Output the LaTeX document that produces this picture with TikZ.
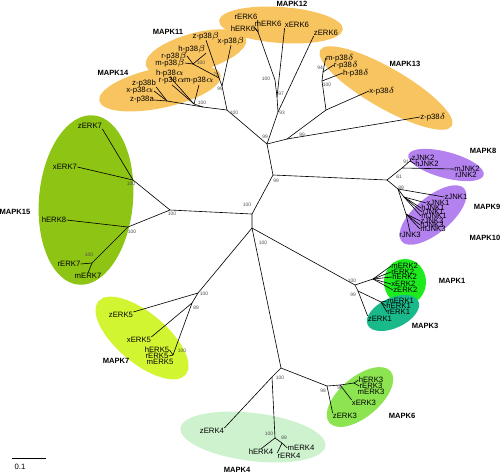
\documentclass[tikz,border=0pt]{standalone}
\usepackage{fontspec}
\setmainfont{Liberation Sans}
\usetikzlibrary{positioning}

\definecolor{pthree}{RGB}{248,196,96}
\definecolor{jnk}{RGB}{180,130,238}
\definecolor{erktwo}{RGB}{30,235,30}
\definecolor{erkone}{RGB}{25,185,140}
\definecolor{erkseven}{RGB}{142,196,20}
\definecolor{erkfive}{RGB}{210,245,50}
\definecolor{erkthree}{RGB}{140,228,80}
\definecolor{erkfour}{RGB}{205,242,205}

\begin{document}
\begin{tikzpicture}[x=0.02cm, y=-0.02cm,
    leaf/.style={font=\fontsize{4.4}{5}\selectfont, inner sep=0pt},
    bs/.style={font=\fontsize{2.8}{3}\selectfont, inner sep=0pt, text=black!70},
    grp/.style={font=\fontsize{4.3}{5}\selectfont\bfseries, inner sep=0pt},
    br/.style={line width=0.35pt}]
\useasboundingbox (0,0) rectangle (500,474);

% clade backgrounds
\fill[pthree, rotate around={-4:(281,25)}] (281,25) ellipse [x radius=62, y radius=18];
\fill[pthree, rotate around={15:(196,52)}] (196,52) ellipse [x radius=52, y radius=19];
\fill[pthree, rotate around={12:(160,88)}] (160,88) ellipse [x radius=62, y radius=20];
\fill[pthree, rotate around={-30:(386,88)}] (386,88) ellipse [x radius=76, y radius=20];
\fill[jnk, rotate around={-15:(446,165)}] (446,165) ellipse [x radius=39, y radius=13];
\fill[jnk, rotate around={40:(433,215)}] (433,215) ellipse [x radius=41, y radius=18];
\fill[erktwo] (405,282) ellipse [x radius=21, y radius=23];
\fill[erkone, rotate around={25:(393,313)}] (393,313) ellipse [x radius=28, y radius=15];
\fill[erkseven, rotate around={-5:(86,200)}] (86,200) ellipse [x radius=47, y radius=85];
\fill[erkfive, rotate around={-40:(142,338)}] (142,338) ellipse [x radius=57, y radius=25];
\fill[erkthree, rotate around={40:(360,397)}] (360,397) ellipse [x radius=40, y radius=20];
\fill[erkfour, rotate around={-7:(253,437)}] (253,437) ellipse [x radius=73, y radius=24];

% inner nodes
\coordinate (N1) at (273,175);
\coordinate (N2) at (252,214);
\coordinate (N3) at (252,228);
\coordinate (A) at (267,144);
\coordinate (P0) at (227,110);
\coordinate (Pb) at (222,86);
\coordinate (Pb2) at (219,78);
\coordinate (Pbm) at (193,64);
\coordinate (Pa) at (203,107);
\coordinate (Pam) at (194,104);
\coordinate (Paf) at (167,101);
\coordinate (G3) at (278,112);
\coordinate (G2) at (277,97);
\coordinate (G1) at (275,80);
\coordinate (Gm) at (258,32);
\coordinate (Dz) at (287,139);
\coordinate (Dx) at (326,110);
\coordinate (D1) at (322,81);
\coordinate (D2) at (323,72);
\coordinate (J0) at (387,180);
\coordinate (J2) at (402,168);
\coordinate (J2a) at (410,161);
\coordinate (J13) at (398,189);
\coordinate (J1) at (404,197);
\coordinate (J3) at (406,214);
\coordinate (M15) at (170,210);
\coordinate (E7a) at (133,180);
\coordinate (E7b) at (128,227);
\coordinate (E7c) at (92,263);
\coordinate (M7) at (198,293);
\coordinate (M7b) at (192,303);
\coordinate (M7c) at (173,355);
\coordinate (E34) at (281,368);
\coordinate (K4) at (272,377);
\coordinate (K4m) at (275,438);
\coordinate (K4rm) at (282,443);
\coordinate (E3) at (327,386);
\coordinate (E3b) at (340,385);
\coordinate (E3m) at (354,383);
\coordinate (R) at (355,285);
\coordinate (E2) at (373,279);
\coordinate (E1) at (358,291);
\coordinate (E1m) at (381,302);

% leaves
\node[leaf] (hERK6) at (243,29) {hERK6};
\node[leaf] (mERK6) at (268,24) {mERK6};
\node[leaf] (rERK6) at (246,17) {rERK6};
\node[leaf] (xERK6) at (297,25) {xERK6};
\node[leaf] (zERK6) at (326,33) {zERK6};
\node[leaf] (zpb) at (206,36) {z-p38$\beta$};
\node[leaf] (xpb) at (231,41) {x-p38$\beta$};
\node[leaf] (hpb) at (192,49) {h-p38$\beta$};
\node[leaf] (rpb) at (174,56) {r-p38$\beta$};
\node[leaf] (mpb) at (170,63) {m-p38$\beta$};
\node[leaf] (hpa) at (170,73) {h-p38$\alpha$};
\node[leaf] (rpa) at (172,81) {r-p38$\alpha$};
\node[leaf] (mpa) at (199,81) {m-p38$\alpha$};
\node[leaf] (zpbb) at (144,83) {z-p38b};
\node[leaf] (xpa) at (140,91) {x-p38$\alpha$};
\node[leaf] (zpa) at (142,100) {z-p38a};
\node[leaf] (mpd) at (340,58) {m-p38$\delta$};
\node[leaf] (rpd) at (346,65) {r-p38$\delta$};
\node[leaf] (hpd) at (356,73) {h-p38$\delta$};
\node[leaf] (xpd) at (382,91) {x-p38$\delta$};
\node[leaf] (zpd) at (433,117) {z-p38$\delta$};
\node[leaf] (zJNK2) at (423,158) {zJNK2};
\node[leaf] (hJNK2) at (427,164) {hJNK2};
\node[leaf] (mJNK2) at (467,169) {mJNK2};
\node[leaf] (rJNK2) at (466,175) {rJNK2};
\node[leaf] (zJNK1) at (456,197) {zJNK1};
\node[leaf] (xJNK1) at (438,203) {xJNK1};
\node[leaf] (hJNK1) at (433,208) {hJNK1};
\node[leaf] (rJNK1) at (433,212) {rJNK1};
\node[leaf] (mJNK1) at (434,216) {mJNK1};
\node[leaf] (zJNK3) at (432,221) {zJNK3};
\node[leaf] (hJNK3) at (432,225) {hJNK3};
\node[leaf] (mJNK3) at (433,229) {mJNK3};
\node[leaf] (rJNK3) at (410,235) {rJNK3};
\node[leaf, anchor=west] (mERK2) at (391,266) {mERK2};
\node[leaf, anchor=west] (rERK2) at (391,272) {rERK2};
\node[leaf, anchor=west] (hERK2) at (392,277) {hERK2};
\node[leaf, anchor=west] (xERK2) at (391,284) {xERK2};
\node[leaf, anchor=west] (zERK2) at (393,290) {zERK2};
\node[leaf, anchor=west] (mERK1) at (387,301) {mERK1};
\node[leaf, anchor=west] (hERK1) at (386,306) {hERK1};
\node[leaf, anchor=west] (rERK1) at (387,312) {rERK1};
\node[leaf] (zERK1) at (380,319) {zERK1};
\node[leaf] (zERK7) at (90,126) {zERK7};
\node[leaf] (xERK7) at (65,167) {xERK7};
\node[leaf] (hERK8) at (54,220) {hERK8};
\node[leaf] (rERK7) at (69,264) {rERK7};
\node[leaf] (mERK7) at (88,276) {mERK7};
\node[leaf] (zERK5) at (121,315) {zERK5};
\node[leaf] (xERK5) at (139,340) {xERK5};
\node[leaf] (hERK5) at (157,350) {hERK5};
\node[leaf] (rERK5) at (157,356) {rERK5};
\node[leaf] (mERK5) at (160,362) {mERK5};
\node[leaf] (hERK3) at (371,380) {hERK3};
\node[leaf] (rERK3) at (371,386) {rERK3};
\node[leaf] (mERK3) at (371,392) {mERK3};
\node[leaf] (xERK3) at (364,403) {xERK3};
\node[leaf] (zERK3) at (345,416) {zERK3};
\node[leaf] (zERK4) at (212,431) {zERK4};
\node[leaf] (hERK4) at (261,452) {hERK4};
\node[leaf] (rERK4) at (289,456) {rERK4};
\node[leaf] (mERK4) at (301,448) {mERK4};

% branches
\draw[br] (N1) -- (N2) -- (N3);
\draw[br] (N1) -- (A);
\draw[br] (N1) -- (J0);
\draw[br] (N2) -- (M15);
\draw[br] (N3) -- (M7);
\draw[br] (N3) -- (E34);
\draw[br] (N3) -- (R);
% p38
\draw[br] (A) -- (P0);
\draw[br] (A) -- (G3);
\draw[br] (A) -- (Dz);
\draw[br] (P0) -- (Pb);
\draw[br] (P0) -- (Pa);
\draw[br] (Pb) -- (Pb2);
\draw[br] (Pb) -- (xpb.south);
\draw[br] (Pb2) -- (zpb.south);
\draw[br] (Pb2) -- (Pbm);
\draw[br] (Pbm) -- (hpb.south east);
\draw[br] (Pbm) -- (rpb.east);
\draw[br] (Pbm) -- (mpb.east);
\draw[br] (Pa) -- (Pam);
\draw[br] (Pa) -- (Paf);
\draw[br] (Pam) -- (hpa.south);
\draw[br] (Pam) -- (rpa.south);
\draw[br] (Pam) -- (mpa.south);
\draw[br] (Paf) -- (zpbb.south east);
\draw[br] (Paf) -- (xpa.east);
\draw[br] (Paf) -- (zpa.east);
\draw[br] (G3) -- (G2) -- (G1) -- (Gm);
\draw[br] (G3) -- (zERK6.south west);
\draw[br] (G2) -- (xERK6.south west);
\draw[br] (Gm) -- (hERK6.east);
\draw[br] (Gm) -- (mERK6.south west);
\draw[br] (Gm) -- (rERK6.south east);
\draw[br] (Dz) -- (zpd.west);
\draw[br] (Dz) -- (Dx);
\draw[br] (Dx) -- (xpd.west);
\draw[br] (Dx) -- (D1);
\draw[br] (D1) -- (hpd.west);
\draw[br] (D1) -- (D2);
\draw[br] (D2) -- (mpd.west);
\draw[br] (D2) -- (rpd.west);
% JNK
\draw[br] (J0) -- (J2);
\draw[br] (J0) -- (J13);
\draw[br] (J2) -- (J2a);
\draw[br] (J2) -- (mJNK2.west);
\draw[br] (J2a) -- (zJNK2.west);
\draw[br] (J2a) -- (hJNK2.west);
\draw[br] (J13) -- (zJNK1.west);
\draw[br] (J13) -- (J1);
\draw[br] (J13) -- (J3);
\draw[br] (J1) -- (xJNK1.west);
\draw[br] (J1) -- (hJNK1.west);
\draw[br] (J1) -- (rJNK1.west);
\draw[br] (J1) -- (mJNK1.west);
\draw[br] (J3) -- (zJNK3.west);
\draw[br] (J3) -- (hJNK3.west);
\draw[br] (J3) -- (mJNK3.west);
\draw[br] (J3) -- (rJNK3.north);
% ERK1/2
\draw[br] (R) -- (E2);
\draw[br] (R) -- (E1);
\draw[br] (E2) -- (mERK2.west);
\draw[br] (E2) -- (rERK2.west);
\draw[br] (E2) -- (hERK2.west);
\draw[br] (E2) -- (xERK2.west);
\draw[br] (E2) -- (zERK2.west);
\draw[br] (E1) -- (zERK1.north west);
\draw[br] (E1) -- (E1m);
\draw[br] (E1m) -- (mERK1.west);
\draw[br] (E1m) -- (hERK1.west);
\draw[br] (E1m) -- (rERK1.west);
% ERK7/8
\draw[br] (M15) -- (E7a);
\draw[br] (M15) -- (E7b);
\draw[br] (E7a) -- (zERK7.south east);
\draw[br] (E7a) -- (xERK7.east);
\draw[br] (E7b) -- (hERK8.east);
\draw[br] (E7b) -- (E7c);
\draw[br] (E7c) -- (rERK7.east);
\draw[br] (E7c) -- (mERK7.north);
% ERK5
\draw[br] (M7) -- (zERK5.north east);
\draw[br] (M7) -- (M7b);
\draw[br] (M7b) -- (xERK5.north east);
\draw[br] (M7b) -- (M7c);
\draw[br] (M7c) -- (hERK5.east);
\draw[br] (M7c) -- (rERK5.east);
% ERK3/4
\draw[br] (E34) -- (E3);
\draw[br] (E34) -- (K4);
\draw[br] (K4) -- (zERK4.north east);
\draw[br] (K4) -- (K4m);
\draw[br] (K4m) -- (hERK4.north);
\draw[br] (K4m) -- (K4rm);
\draw[br] (K4rm) -- (rERK4.north west);
\draw[br] (K4rm) -- (mERK4.west);
\draw[br] (E3) -- (zERK3.north west);
\draw[br] (E3) -- (E3b);
\draw[br] (E3b) -- (xERK3.north west);
\draw[br] (E3b) -- (E3m);
\draw[br] (E3m) -- (hERK3.west);
\draw[br] (E3m) -- (rERK3.west);

% bootstrap values
\node[bs] (bN1) at (276,181) {99};
\node[bs] (bN2) at (247,205) {100};
\node[bs] (bN3) at (263,243) {100};
\node[bs] (bA) at (265,137) {99};
\node[bs] (bDz) at (302,135) {99};
\node[bs] (bP0) at (234,113) {100};
\node[bs] (bPb) at (220,89) {99};
\node[bs] (bPb2) at (216,75) {75};
\node[bs] (bPbm) at (201,63) {100};
\node[bs] (bPa) at (202,103) {100};
\node[bs] (bG1) at (266,79) {100};
\node[bs] (bG2) at (281,94) {97};
\node[bs] (bG3) at (282,113) {93};
\node[bs] (bD1) at (327,85) {100};
\node[bs] (bD2) at (320,68) {94};
\node[bs] (bJ2) at (399,177) {61};
\node[bs] (bJ2a) at (406,162) {91};
\node[bs] (bJ13) at (401,188) {89};
\node[bs] (bR) at (352,281) {100};
\node[bs] (bE1) at (353,295) {99};
\node[bs] (bM15) at (172,214) {100};
\node[bs] (bE7a) at (131,184) {100};
\node[bs] (bE7b) at (132,232) {100};
\node[bs] (bE7c) at (89,255) {100};
\node[bs] (bM7) at (204,294) {100};
\node[bs] (bM7b) at (196,308) {89};
\node[bs] (bM7c) at (182,351) {100};
\node[bs] (bK4) at (280,378) {100};
\node[bs] (bK4m) at (269,434) {100};
\node[bs] (bK4rm) at (284,438) {89};
\node[bs] (bE3) at (323,391) {98};
\node[bs] (bE3b) at (340,388) {98};

% clade names
\node[grp] (g12) at (292,4) {MAPK12};
\node[grp] (g11) at (168,32) {MAPK11};
\node[grp] (g14) at (113,73) {MAPK14};
\node[grp] (g13) at (405,64) {MAPK13};
\node[grp] (g8) at (483,151) {MAPK8};
\node[grp] (g9) at (487,207) {MAPK9};
\node[grp] (g10) at (485,238) {MAPK10};
\node[grp] (g1) at (452,281) {MAPK1};
\node[grp] (g3) at (425,326) {MAPK3};
\node[grp] (g15) at (15,212) {MAPK15};
\node[grp] (g7) at (116,361) {MAPK7};
\node[grp] (g6) at (402,416) {MAPK6};
\node[grp] (g4) at (237,470) {MAPK4};

% scale
\coordinate (s0) at (12,458);
\coordinate (s1) at (46,458);
\draw[br] (s0) -- (s1);
\node[leaf] (sc) at (20,467) {0.1};
\end{tikzpicture}
\end{document}
